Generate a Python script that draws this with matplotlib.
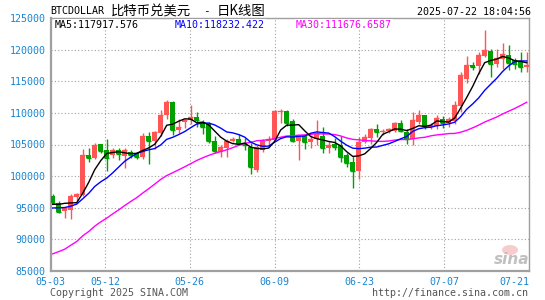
import numpy as np
import pandas as pd
import matplotlib
matplotlib.use("Agg")
import matplotlib.pyplot as plt
from matplotlib.patches import Ellipse

plt.rcParams['font.family'] = ['DejaVu Sans Mono', 'Noto Sans CJK SC']

# daily bars 2025-05-03 .. 2025-07-21
opens = [96900, 95800, 94500, 94700, 96700, 97000, 103300, 102900, 105000, 104100,
         103400, 104100, 103200, 103800, 103600, 103000, 106400, 105500, 106800, 109600,
         111700, 107300, 108500, 108800, 109400, 108500, 108300, 105600, 103800, 104500,
         105500, 105800, 105200, 104600, 101000, 104100, 105500, 105700, 110100, 110300,
         108700, 105500, 106300, 105400, 105800, 106300, 104500, 105000, 104900, 103300,
         102200, 100800, 105400, 106100, 107500, 106900, 107100, 107200, 108400, 106900,
         105900, 108500, 109600, 107800, 108000, 109100, 108400, 108700, 111100, 115300,
         117500, 117400, 119000, 119800, 117700, 118500, 119200, 118300, 118100, 117300]
highs = [97100, 96000, 95100, 97100, 97400, 104300, 104400, 105200, 105100, 105800,
         104400, 104400, 104400, 104100, 103800, 106800, 107000, 107200, 110500, 112000,
         111900, 109000, 109100, 111200, 110100, 108800, 108500, 106300, 104900, 105900,
         106200, 106700, 106100, 105200, 105000, 105900, 106300, 110400, 110600, 110400,
         109100, 106300, 106300, 106500, 108900, 107800, 105500, 106000, 106400, 103600,
         103200, 106200, 106600, 107600, 108300, 107500, 107600, 108500, 108900, 107500,
         110200, 110500, 109700, 108400, 109700, 109500, 109400, 111900, 116400, 119000,
         118000, 119700, 123100, 120100, 120100, 121000, 120700, 118600, 119700, 119700]
lows = [95700, 94100, 93400, 93200, 96100, 96900, 102200, 102700, 103700, 100800,
        102900, 102500, 101300, 102900, 102700, 102700, 101900, 104300, 106300, 109000,
        106500, 106800, 107600, 108300, 107700, 106700, 105300, 103600, 103000, 103000,
        105400, 104900, 104100, 100400, 100700, 103800, 104900, 105500, 108400, 108000,
        105400, 102500, 104300, 104500, 104900, 103600, 103600, 104100, 102300, 101400,
        98200, 99600, 105200, 105100, 106200, 106500, 106800, 107000, 107000, 105100,
        105000, 108300, 107500, 107500, 107400, 107600, 107800, 108300, 110200, 114800,
        116700, 116100, 118800, 115600, 117200, 117000, 116700, 117000, 116400, 116400]
closes = [95800, 94300, 95000, 96800, 97100, 103300, 102900, 105000, 103900, 102800,
          104100, 103500, 104100, 103300, 103000, 106400, 105500, 107000, 109600, 111700,
          107300, 107800, 108900, 109400, 108800, 107800, 105600, 104000, 104600, 105600,
          105900, 105100, 104900, 101400, 104600, 105500, 105800, 110300, 110300, 108400,
          105500, 106200, 105400, 105800, 106700, 104500, 105000, 104600, 103100, 102100,
          100800, 105400, 106200, 107400, 106900, 107100, 107500, 108400, 107200, 105800,
          108800, 109600, 107900, 108100, 109200, 108400, 109100, 111200, 116000, 117500,
          117200, 119100, 119900, 117700, 118600, 119300, 117900, 117700, 117200, 117500]
# closes of the 29 days before 05-03 (not drawn, only start the moving averages)
prev_close = [83800, 83500, 78200, 79200, 76300, 82600, 79600, 83400, 85300, 83700,
              84500, 83600, 84000, 84900, 84500, 85000, 85100, 87500, 93400, 93700,
              93900, 94700, 94600, 93800, 94900, 94300, 94200, 96500, 96900]

tick_days = [0, 9, 23, 37, 51, 65, 79]
tick_labels = ["05-03", "05-12", "05-26", "06-09", "06-23", "07-07", "07-21"]
y_ticks = list(range(85000, 125001, 5000))
ma_labels = ["MA5:117917.576", "MA10:118232.422", "MA30:111676.6587"]

RED = '#ff5555'
GREEN = '#00a000'
BLUE_TXT = '#1a86d0'

o = np.array(opens)
h = np.array(highs)
l = np.array(lows)
c = np.array(closes)
x = np.arange(len(c))

allc = pd.Series(prev_close + closes, dtype=float)
n0 = len(prev_close)
ma5 = allc.rolling(5).mean().values[n0:]
ma10 = allc.rolling(10).mean().values[n0:]
ma30 = allc.rolling(30).mean().values[n0:]

W, H = 545, 300
fig = plt.figure(figsize=(W / 100, H / 100), dpi=100)
ax = fig.add_axes([50.5 / W, 29 / H, 478.5 / W, 253 / H])

col = np.where(c >= o, RED, GREEN)
ax.vlines(x, l, h, colors=col, lw=1, zorder=2)
ax.hlines(c, x - 0.38, x + 0.38, colors=col, lw=1, zorder=2)
ax.bar(x, np.abs(c - o), bottom=np.minimum(o, c), width=0.76, color=col, lw=0, zorder=3)

ax.plot(x, ma30, color='#ff00ff', lw=1, zorder=4)
ax.plot(x, ma10, color='#0000ff', lw=1, zorder=4)
ax.plot(x, ma5, color='black', lw=1, zorder=5)

x0, x1 = -0.37, 79.38
ax.set_xlim(x0, x1)
ax.set_ylim(85000, 125000)
xt = [x0 + d * (x1 - x0) / 79 for d in tick_days]
ax.set_xticks(xt)
ax.set_xticklabels(tick_labels)
ax.get_xticklabels()[-1].set_ha('right')
ax.set_yticks(y_ticks)
ax.set_yticklabels([str(v) for v in y_ticks])
ax.tick_params(length=0, labelsize=7.2, labelcolor=BLUE_TXT)
ax.tick_params(axis='y', pad=3.5)
ax.tick_params(axis='x', pad=4)
ax.grid(True, color='#a0a0a0', linestyle=(0, (1, 2)), lw=0.8, zorder=0)
for s in ax.spines.values():
    s.set_color('#a0a0a0')
    s.set_linewidth(1)
ax.spines['left'].set_linewidth(1.6)
ax.spines['bottom'].set_linewidth(1.6)


def px(xp, yp):
    return xp / W, 1 - yp / H


fig.text(*px(50, 11.5), "BTCDOLLAR", fontsize=7.2, va='center')
fig.text(*px(111, 11.5), "比特币兑美元", fontsize=9.6, va='center',
         family=['Noto Sans CJK SC'])
fig.text(*px(206, 11.5), "-", fontsize=8, va='center', ha='center')
fig.text(*px(217, 11.5), "日K线图", fontsize=9.6, va='center',
         family=['Noto Sans CJK SC'])
fig.text(*px(531, 12), "2025-07-22 18:04:56", fontsize=7.2, va='center', ha='right')

ma_cols = ['black', '#0000ff', '#ff00ff']
ma_x = [55, 175, 296]
for lab, cc, xp in zip(ma_labels, ma_cols, ma_x):
    fig.text(*px(xp, 24.5), lab, fontsize=7.2, va='center', color=cc,
             bbox=dict(fc='white', ec='none', pad=0.5))

fig.text(*px(50, 293), "Copyright 2025 SINA.COM", fontsize=7.2, va='center', color='#555555')
fig.text(*px(528, 293), "http://finance.sina.com.cn", fontsize=7.2, va='center',
         ha='right', color='#555555')

fig.add_artist(Ellipse(px(510, 250), 16 / W, 10 / H, transform=fig.transFigure,
                       fc='#f6c0c0', ec='none', alpha=0.8))
fig.text(*px(512, 259), "sina", fontsize=11, va='center', ha='center', color='#c0c0c0',
         style='italic', weight='bold', family=['DejaVu Sans'])

fig.savefig('out.png', dpi=100, facecolor='white')
